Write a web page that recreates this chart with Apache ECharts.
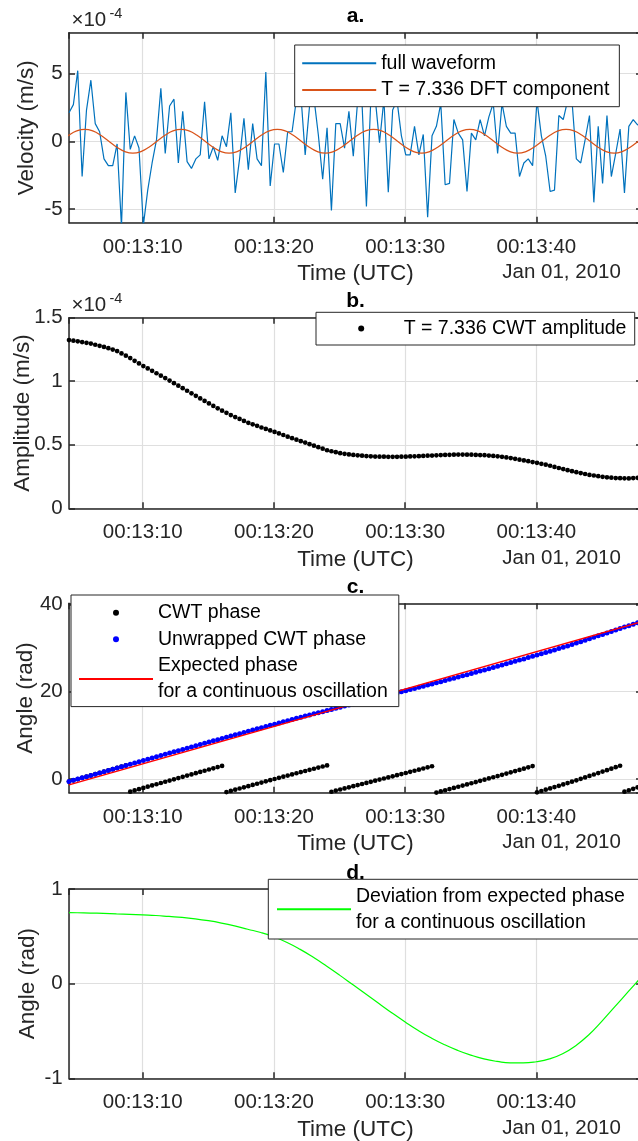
<!DOCTYPE html>
<html><head><meta charset="utf-8">
<script src="https://cdn.jsdelivr.net/npm/echarts@6/dist/echarts.min.js"></script>
<style>html,body{margin:0;padding:0;background:#fff}#c{width:638px;height:1141px}</style>
</head><body><div id="c"></div>
<script>
// ---- data (time in seconds after 00:13:00 UTC, Jan 01 2010) ----
const T_START = 4.38, T_END = 48.05, DT = 1 / 3;

// a. full waveform, units of 1e-4 m/s
const velocity = [2.1, 2.7, 5.2, -2.6, 2.3, 4.5, 1.3, 0.7, -1.3, -1.8, -1.8, -0.2, -6.3, 3.6, -0.6, 0.4, -0.5, -6.2, -3.6, -1.6,
  0.1, 3.9, -0.9, 2.6, 3.1, -1.6, 2.2, -1.5, -2.0, -1.3, -1.0, 2.9, -1.3, -0.4, -1.4, 0.4, -0.4, 2.1, -3.8, -1.3,
  1.7, -2.1, 1.3, -1.3, -1.8, 5.1, -3.3, -0.2, -0.2, -2.3, 0.7, 0.7, 3.1,
  3.5, -1.0, 2.6, 3.2, 0.5, -2.8, 1.0, -5.1, 1.3, 1.3, -0.5, 2.2, -1.1, 3.0, 2.8, -4.8, 3.0, 3.2, -0.1, 3.1,
  -3.75, 2.3, 3.0, 0.4, -1.0, -1.0, 1.1, -1.0, 0.5, -5.6, 0.4, 1.1, 2.8, -3.2, -3.1, 1.6, 0.6, 0.1, -3.7, 0.6,
  0.1, 1.6, 0.4, 1.8, 2.8, -0.9, 2.8, 1.1, 0.6, 0.6, -2.6, -1.6, -1.3, -1.8, 3.0, 0.4, -1.1, -3.7, -3.6, 1.9,
  1.6, 3.0, 3.0, -1.3, -1.6, 0.1, 1.9, -4.5, 1.1, -3.1, 1.9, -2.6, -0.9, 0.9, -3.8, 1.1, 1.6, 1.2, 1.5];

// a. T = 7.336 DFT component (time, value in 1e-4 m/s)
const dftTime = [3.746, 4.357, 4.969, 5.580, 6.191, 6.802, 7.414, 8.025, 8.636, 9.248, 9.859, 10.470, 11.082, 11.693,
  12.304, 12.916, 13.527, 14.138, 14.750, 15.361, 15.972, 16.584, 17.195, 17.806, 18.418, 19.029, 19.640, 20.252,
  20.863, 21.474, 22.086, 22.697, 23.308, 23.920, 24.531, 25.142, 25.754, 26.365, 26.976, 27.588, 28.199, 28.810,
  29.422, 30.033, 30.644, 31.256, 31.867, 32.478, 33.090, 33.701, 34.312, 34.924, 35.535, 36.146, 36.758, 37.369,
  37.980, 38.592, 39.203, 39.814, 40.426, 41.037, 41.648, 42.260, 42.871, 43.482, 44.094, 44.705, 45.316, 45.928,
  46.539, 47.150, 47.762, 48.373];
const dftValue = [0, 0.44, 0.762, 0.88, 0.762, 0.44, 0, -0.44, -0.762, -0.88, -0.762, -0.44, 0, 0.44,
  0.762, 0.88, 0.762, 0.44, 0, -0.44, -0.762, -0.88, -0.762, -0.44, 0, 0.44, 0.762, 0.88,
  0.762, 0.44, 0, -0.44, -0.762, -0.88, -0.762, -0.44, 0, 0.44, 0.762, 0.88, 0.762, 0.44,
  0, -0.44, -0.762, -0.88, -0.762, -0.44, 0, 0.44, 0.762, 0.88, 0.762, 0.44, 0, -0.44,
  -0.762, -0.88, -0.762, -0.44, 0, 0.44, 0.762, 0.88, 0.762, 0.44, 0, -0.44, -0.762, -0.88,
  -0.762, -0.44, 0, 0.44];

// b. CWT amplitude, units of 1e-4 m/s
const amplitude = [1.324, 1.319, 1.314, 1.308, 1.302, 1.296, 1.287, 1.279, 1.270, 1.260, 1.249, 1.237, 1.219, 1.201,
  1.182, 1.161, 1.140, 1.119, 1.101, 1.082, 1.063, 1.044, 1.025, 1.005, 0.985, 0.965, 0.945, 0.925, 0.905,
  0.885, 0.865, 0.845, 0.825, 0.806, 0.787, 0.768, 0.751, 0.734, 0.718, 0.703, 0.688, 0.673, 0.661, 0.649,
  0.636, 0.625, 0.613, 0.601, 0.589, 0.577, 0.564, 0.552, 0.540, 0.528, 0.517, 0.505, 0.493, 0.481, 0.469,
  0.457, 0.449, 0.442, 0.434, 0.429, 0.424, 0.420, 0.417, 0.414, 0.411, 0.409, 0.407, 0.406, 0.406, 0.405,
  0.405, 0.405, 0.406, 0.406, 0.408, 0.409, 0.410, 0.412, 0.414, 0.415, 0.417, 0.419, 0.420, 0.421, 0.422,
  0.423, 0.423, 0.422, 0.422, 0.420, 0.419, 0.418, 0.415, 0.412, 0.409, 0.405, 0.400, 0.395, 0.389, 0.383,
  0.377, 0.371, 0.364, 0.358, 0.350, 0.343, 0.335, 0.326, 0.317, 0.309, 0.300, 0.292, 0.284, 0.277, 0.270,
  0.263, 0.258, 0.253, 0.248, 0.244, 0.241, 0.238, 0.237, 0.236, 0.235, 0.238, 0.240, 0.242];

// c. CWT phase (rad)
const cwtPhase = [-0.600, -0.316, -0.030, 0.255, 0.539, 0.824, 1.108, 1.392, 1.676, 1.960, 2.243, 2.528, 2.811, 3.095,
  -2.904, -2.620, -2.337, -2.053, -1.770, -1.486, -1.203, -0.921, -0.639, -0.356, -0.075, 0.208, 0.489, 0.770,
  1.050, 1.331, 1.609, 1.889, 2.167, 2.444, 2.721, 2.999,
  -3.009, -2.733, -2.459, -2.184, -1.911, -1.637, -1.363, -1.089, -0.816, -0.545, -0.276, -0.006, 0.260, 0.526,
  0.791, 1.052, 1.313, 1.574, 1.831, 2.089, 2.346, 2.601, 2.855, 3.110,
  -2.920, -2.666, -2.414, -2.161, -1.909, -1.657, -1.405, -1.152, -0.901, -0.648, -0.396, -0.144, 0.108, 0.361,
  0.613, 0.867, 1.120, 1.375, 1.630, 1.886, 2.141, 2.401, 2.659, 2.919,
  -3.103, -2.840, -2.578, -2.312, -2.047, -1.781, -1.512, -1.243, -0.974, -0.702, -0.430, -0.157, 0.120, 0.397,
  0.673, 0.954, 1.234, 1.515, 1.800, 2.085, 2.369, 2.658, 2.947,
  -3.046, -2.752, -2.458, -2.164, -1.861, -1.559, -1.255, -0.938, -0.620, -0.302, 0.029, 0.359, 0.690, 1.024,
  1.358, 1.692, 2.026, 2.359, 2.694, 3.029,
  -2.918, -2.583, -2.247, -1.912, -1.576];

// c. Unwrapped CWT phase (rad)
const unwrappedPhase = [-0.600, -0.316, -0.030, 0.255, 0.539, 0.824, 1.108, 1.392, 1.676, 1.960, 2.243, 2.528, 2.811,
  3.095, 3.379, 3.663, 3.946, 4.230, 4.513, 4.797, 5.080, 5.362, 5.644, 5.927, 6.208, 6.491, 6.772, 7.053, 7.333,
  7.614, 7.892, 8.172, 8.450, 8.727, 9.004, 9.282, 9.557, 9.833, 10.107, 10.382, 10.655, 10.929, 11.203, 11.477,
  11.750, 12.021, 12.290, 12.560, 12.826, 13.092, 13.357, 13.618, 13.879, 14.140, 14.397, 14.655, 14.912, 15.167,
  15.421, 15.676, 15.930, 16.184, 16.436, 16.689, 16.941, 17.193, 17.445, 17.698, 17.949, 18.202, 18.454, 18.706,
  18.958, 19.211, 19.463, 19.717, 19.970, 20.225, 20.480, 20.736, 20.991, 21.251, 21.509, 21.769, 22.030, 22.293,
  22.555, 22.821, 23.086, 23.352, 23.621, 23.890, 24.159, 24.431, 24.703, 24.976, 25.253, 25.530, 25.806, 26.087,
  26.367, 26.648, 26.933, 27.218, 27.502, 27.791, 28.080, 28.370, 28.664, 28.958, 29.252, 29.555, 29.857, 30.161,
  30.478, 30.796, 31.114, 31.445, 31.775, 32.106, 32.440, 32.774, 33.108, 33.442, 33.775, 34.110, 34.445, 34.781,
  35.116, 35.452, 35.787, 36.123];

// c. Expected phase for a continuous oscillation (straight line, end points)
const expectedTime = [4.38, 48.05];
const expectedPhase = [-1.35, 36.05];

// d. Deviation from expected phase (rad)
const devTime = [4.38, 5, 6, 7, 8, 9, 10, 11, 12, 13, 14, 15, 16, 17, 18, 19, 20, 21, 22, 23, 24, 25, 26, 27, 28,
  29, 30, 31, 32, 33, 34, 35, 36, 37, 38, 39, 40, 41, 42, 43, 44, 45, 46, 47, 48, 48.05];
const devValue = [0.750, 0.749, 0.746, 0.742, 0.737, 0.732, 0.726, 0.720, 0.710, 0.700, 0.685, 0.665, 0.640, 0.610,
  0.575, 0.540, 0.494, 0.435, 0.362, 0.278, 0.186, 0.090, -0.010, -0.110, -0.210, -0.310, -0.405, -0.495, -0.575,
  -0.645, -0.705, -0.755, -0.795, -0.822, -0.838, -0.838, -0.825, -0.795, -0.740, -0.655, -0.540, -0.395, -0.240,
  -0.085, 0.070, 0.078];

// ---- chart ----
const FONT = '"Liberation Sans", Arial, Helvetica, sans-serif';
const INK = '#262626';
const GRIDC = '#dfdfdf';
const sampleTime = velocity.map((_, i) => T_START + i * DT);
const pairs = (xs, ys) => xs.map((x, i) => [x, ys[i]]);

const LEFT = 69, WIDTH = 573;
const panels = [
  {top: 32.7, height: 190, title: 'a.'},
  {top: 317.7, height: 190.6, title: 'b.'},
  {top: 603.3, height: 189.4, title: 'c.'},
  {top: 889, height: 189.3, title: 'd.'}
];
const ySpec = [
  {min: -6, max: 8, splitNumber: 3, name: 'Velocity (m/s)', nameGap: 30.5, hideMin: true, hideMax: true},
  {min: 0, max: 1.5, interval: 0.5, name: 'Amplitude (m/s)', nameGap: 35, hideMin: false, hideMax: false},
  {min: -Math.PI, max: 40.23, splitNumber: 2, name: 'Angle (rad)', nameGap: 32, hideMin: true, hideMax: true},
  {min: -1, max: 1, interval: 1, name: 'Angle (rad)', nameGap: 29.5, hideMin: false, hideMax: false}
];

function xAxisFor(g, pos) {
  const bottom = pos === 'bottom';
  return {
    type: 'value', gridIndex: g, position: pos, min: T_START, max: T_END, splitNumber: 4,
    axisLine: {show: true, onZero: false, lineStyle: {color: INK, width: 1.5}},
    axisTick: {show: true, inside: true, length: 6, lineStyle: {color: INK, width: 1.5}},
    axisLabel: {show: bottom, showMinLabel: false, showMaxLabel: false, margin: 14, color: INK,
      fontSize: 20.5, fontFamily: FONT,
      formatter: v => '00:13:' + String(Math.round(v)).padStart(2, '0')},
    splitLine: {show: bottom, lineStyle: {color: GRIDC, width: 1.2}},
    name: bottom ? 'Time (UTC)' : '', nameLocation: 'middle', nameGap: 40, nameMoveOverlap: false,
    nameTextStyle: {color: INK, fontSize: 22.5, fontFamily: FONT}
  };
}
function yAxisFor(g, pos) {
  const s = ySpec[g], left = pos === 'left';
  const o = {
    type: 'value', gridIndex: g, position: pos, min: s.min, max: s.max,
    axisLine: {show: true, onZero: false, lineStyle: {color: INK, width: 1.5}},
    axisTick: {show: true, inside: true, length: 6, lineStyle: {color: INK, width: 1.5}},
    axisLabel: {show: left, showMinLabel: !s.hideMin, showMaxLabel: !s.hideMax, margin: 6.3, color: INK,
      fontSize: 20.5, fontFamily: FONT},
    splitLine: {show: left, lineStyle: {color: GRIDC, width: 1.2}},
    name: left ? s.name : '', nameLocation: 'middle', nameGap: s.nameGap, nameMoveOverlap: false,
    nameTextStyle: {color: INK, fontSize: 22.5, fontFamily: FONT}
  };
  if (s.interval) o.interval = s.interval; else o.splitNumber = s.splitNumber;
  return o;
}

const grid = [], xAxis = [], yAxis = [], graphic = [];
panels.forEach((p, g) => {
  grid.push({left: LEFT, top: p.top, width: WIDTH, height: p.height, outerBoundsMode: 'none', containLabel: false});
  xAxis.push(xAxisFor(g, 'bottom'), xAxisFor(g, 'top'));
  yAxis.push(yAxisFor(g, 'left'), yAxisFor(g, 'right'));
  graphic.push({type: 'text', z: 1, x: 355.5, y: p.top - 16,
    style: {text: p.title, fill: '#000', font: 'bold 21px ' + FONT, align: 'center', verticalAlign: 'middle'}});
  graphic.push({type: 'text', z: 1, x: 502.3, y: p.top + p.height + 50,
    style: {text: 'Jan 01, 2010', fill: INK, font: '20.5px ' + FONT, align: 'left', verticalAlign: 'middle'}});
});
[0, 1].forEach(g => {
  const p = panels[g];
  graphic.push({type: 'text', z: 1, x: 71.5, y: p.top - 12,
    style: {text: '\u00d710', fill: INK, font: '20.5px ' + FONT, align: 'left', verticalAlign: 'middle'}});
  graphic.push({type: 'text', z: 1, x: 109.5, y: p.top - 19,
    style: {text: '-4', fill: INK, font: '14.5px ' + FONT, align: 'left', verticalAlign: 'middle'}});
});

const lineItem = name => ({name, itemStyle: {opacity: 0}});
const dotItem = name => ({name, icon: 'circle'});
const legendBase = {
  orient: 'vertical', align: 'left', itemWidth: 74, itemHeight: 6, selectedMode: false, backgroundColor: '#fff',
  borderColor: INK, borderWidth: 1, borderRadius: 0, z: 10,
  textStyle: {fontSize: 19.5, lineHeight: 26, color: '#000', fontFamily: FONT}
};
const legend = [
  Object.assign({}, legendBase, {data: [lineItem('full waveform'), lineItem('T = 7.336 DFT component')],
    left: 294.7, top: 45, itemGap: 0.7, padding: [5.3, 10, 3.7, 6.5]}),
  // single dot item: the box is measured from the dot itself, so the left padding spans the empty icon area
  Object.assign({}, legendBase, {data: [dotItem('T = 7.336 CWT amplitude')], itemWidth: 75,
    left: 316, top: 312.3, itemGap: 0.5, padding: [3.3, 8.3, 3.4, 42.2]}),
  Object.assign({}, legendBase, {data: [dotItem('CWT phase'), dotItem('Unwrapped CWT phase'),
    lineItem('Expected phase\nfor a continuous oscillation')],
    left: 71, top: 595, itemGap: 0.6, padding: [4.7, 11, 1.7, 7]}),
  Object.assign({}, legendBase, {data: [lineItem('Deviation from expected phase\nfor a continuous oscillation')],
    left: 268.3, top: 879.3, itemGap: 0.5, padding: [3.9, 14, 3.8, 7.7]})
];

const series = [
  {name: 'full waveform', type: 'line', xAxisIndex: 0, yAxisIndex: 0, symbol: 'none',
    lineStyle: {color: '#0072BD', width: 1.2}, itemStyle: {color: '#0072BD'}, data: pairs(sampleTime, velocity)},
  {name: 'T = 7.336 DFT component', type: 'line', xAxisIndex: 0, yAxisIndex: 0, symbol: 'none', smooth: true,
    lineStyle: {color: '#D95319', width: 1.2}, itemStyle: {color: '#D95319'}, data: pairs(dftTime, dftValue)},
  {name: 'T = 7.336 CWT amplitude', type: 'scatter', xAxisIndex: 2, yAxisIndex: 2, symbol: 'circle', symbolSize: 4.7,
    itemStyle: {color: '#000', opacity: 1}, data: pairs(sampleTime, amplitude)},
  {name: 'CWT phase', type: 'scatter', xAxisIndex: 4, yAxisIndex: 4, symbol: 'circle', symbolSize: 4.7,
    itemStyle: {color: '#000', opacity: 1}, data: pairs(sampleTime, cwtPhase)},
  {name: 'Unwrapped CWT phase', type: 'scatter', xAxisIndex: 4, yAxisIndex: 4, symbol: 'circle', symbolSize: 5,
    itemStyle: {color: '#0000FF', opacity: 1}, data: pairs(sampleTime, unwrappedPhase)},
  {name: 'Expected phase\nfor a continuous oscillation', type: 'line', xAxisIndex: 4, yAxisIndex: 4, symbol: 'none',
    lineStyle: {color: '#FF0000', width: 1.5}, itemStyle: {color: '#FF0000'}, data: pairs(expectedTime, expectedPhase)},
  {name: 'Deviation from expected phase\nfor a continuous oscillation', type: 'line', xAxisIndex: 6, yAxisIndex: 6,
    symbol: 'none', smooth: true, lineStyle: {color: '#00FF00', width: 1.2}, itemStyle: {color: '#00FF00'},
    data: pairs(devTime, devValue)}
];

const chart = echarts.init(document.getElementById('c'), null, {renderer: 'canvas'});
chart.setOption({
  animation: false, backgroundColor: '#fff',
  textStyle: {fontFamily: FONT},
  grid, xAxis, yAxis, legend, series, graphic
});
</script></body></html>
